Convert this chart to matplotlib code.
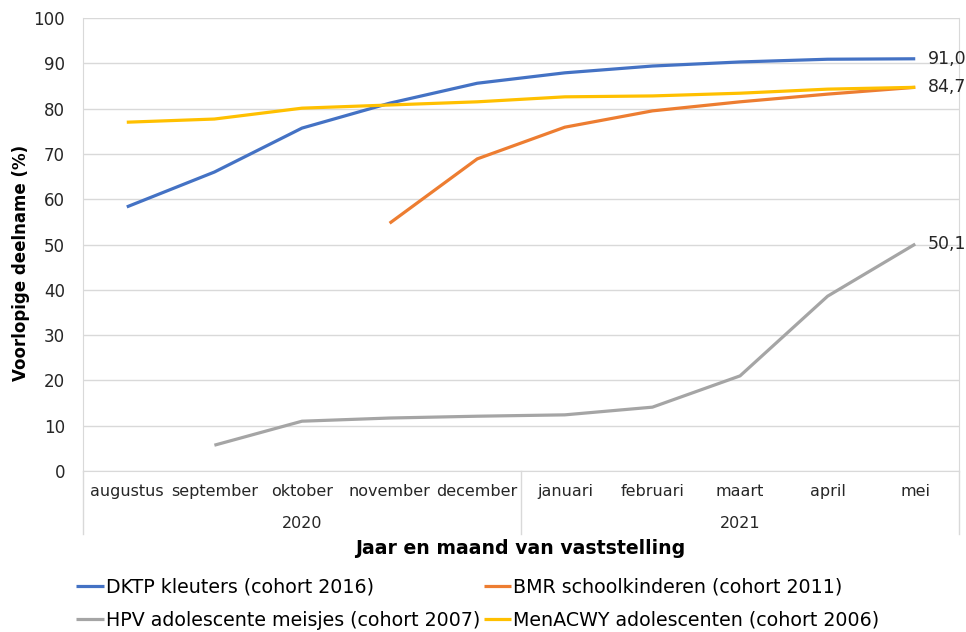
import matplotlib
matplotlib.use("Agg")
import matplotlib.pyplot as plt
import matplotlib.transforms as mtransforms
import numpy as np

plt.rcParams['font.family'] = ['DejaVu Sans']
plt.rcParams['font.size'] = 11.5

months = ['augustus', 'september', 'oktober', 'november', 'december',
          'januari', 'februari', 'maart', 'april', 'mei']
years = ['2020', '2021']
year_months = [5, 5]  # number of months in each year group

nan = np.nan
dktp = [58.3, 66.0, 75.7, 81.2, 85.6, 87.9, 89.4, 90.3, 90.9, 91.0]
bmr = [nan, nan, nan, 54.7, 68.9, 75.9, 79.5, 81.5, 83.2, 84.7]
hpv = [nan, 5.7, 11.0, 11.7, 12.1, 12.4, 14.1, 21.0, 38.6, 50.1]
menacwy = [77.0, 77.7, 80.1, 80.8, 81.5, 82.6, 82.8, 83.4, 84.3, 84.7]

series = [
    ('DKTP kleuters (cohort 2016)', dktp, '#4472C4'),
    ('BMR schoolkinderen (cohort 2011)', bmr, '#ED7D31'),
    ('HPV adolescente meisjes (cohort 2007)', hpv, '#A5A5A5'),
    ('MenACWY adolescenten (cohort 2006)', menacwy, '#FFC000'),
]
end_labels = {'DKTP kleuters (cohort 2016)': '91,0',
              'HPV adolescente meisjes (cohort 2007)': '50,1',
              'MenACWY adolescenten (cohort 2006)': '84,7'}

fig = plt.figure(figsize=(9.66, 6.32), dpi=100)
ax = fig.add_axes([0.0859, 0.2547, 0.9069, 0.7168])

x = np.arange(len(months))
lines = {}
for name, vals, color in series:
    ln, = ax.plot(x, vals, color=color, lw=2.3, solid_capstyle='butt',
                  label=name, zorder=3)
    lines[name] = ln
    if name in end_labels:
        ax.annotate(end_labels[name], (x[-1], vals[-1]), xytext=(9, 0),
                    textcoords='offset points', va='center', ha='left',
                    color='#262626', fontsize=12.5)

ax.set_xlim(-0.5, len(months) - 0.5)
ax.set_ylim(0, 100)
ax.set_yticks(np.arange(0, 101, 10))
ax.grid(axis='y', color='#d9d9d9', lw=1)
ax.set_axisbelow(True)
ax.spines['top'].set_visible(False)
for s in ['left', 'right', 'bottom']:
    ax.spines[s].set_color('#d9d9d9')
ax.tick_params(axis='both', length=0, colors='#262626', labelsize=11.5)
ax.tick_params(axis='y', pad=13, labelsize=12)
ax.set_xticks(x)
ax.set_xticklabels(months)
ax.tick_params(axis='x', pad=9)

# grouped year axis
trans = mtransforms.blended_transform_factory(ax.transData, ax.transAxes)
bounds = np.concatenate([[0], np.cumsum(year_months)]) - 0.5
for b in bounds:
    ax.plot([b, b], [0, -0.14], transform=trans, color='#d9d9d9', lw=1,
            clip_on=False)
for i, yr in enumerate(years):
    ax.text((bounds[i] + bounds[i + 1]) / 2, -0.115, yr, transform=trans,
            ha='center', va='center', color='#262626')

ax.set_ylabel('Voorlopige deelname (%)', fontweight='bold', fontsize=12)
ax.yaxis.set_label_coords(-0.061, 0.459)
fig.text(0.539, 0.132, 'Jaar en maand van vaststelling', ha='center',
         va='center', fontweight='bold', fontsize=13.6)

order = ['DKTP kleuters (cohort 2016)', 'HPV adolescente meisjes (cohort 2007)',
         'BMR schoolkinderen (cohort 2011)', 'MenACWY adolescenten (cohort 2006)']
fig.legend([lines[n] for n in order], order, ncol=2, loc='upper left',
           bbox_to_anchor=(0.079, 0.0855), frameon=False, handlelength=1.45,
           handletextpad=0.1, columnspacing=0.2, labelspacing=0.72,
           borderaxespad=0, borderpad=0, fontsize=13.7)

fig.savefig('out.png', dpi=100)
